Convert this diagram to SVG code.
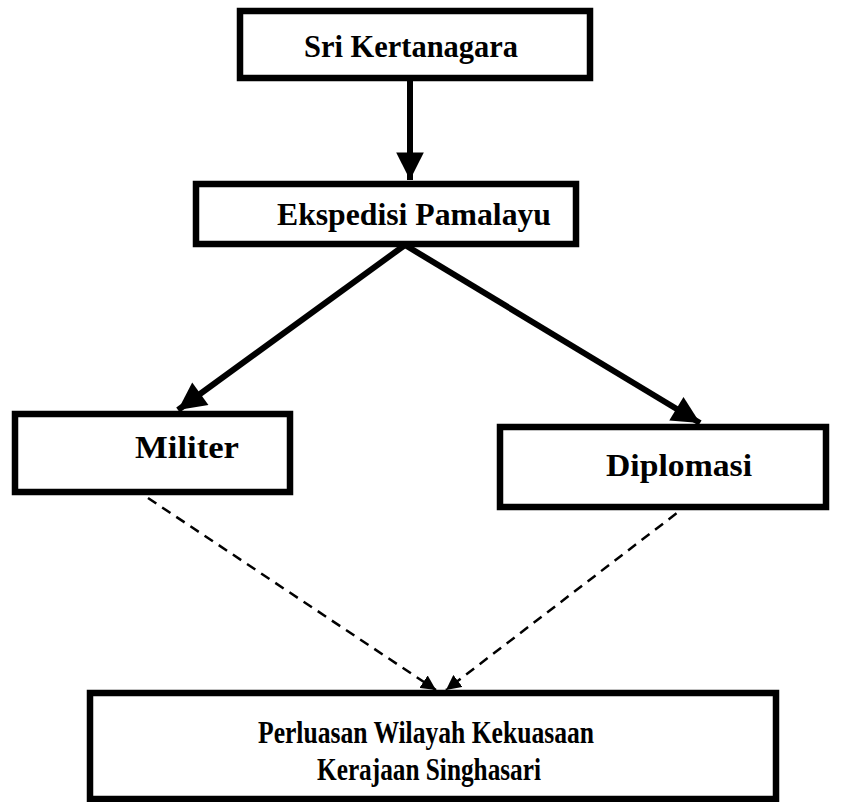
<svg xmlns="http://www.w3.org/2000/svg" width="841" height="802" viewBox="0 0 841 802">
<style>
.box{fill:#fff;stroke:#000;stroke-width:6.5}
.t{font-family:"Liberation Serif","Times New Roman",serif;font-weight:bold;font-size:32px;fill:#000;text-anchor:middle}
.solid{stroke:#000;stroke-width:6;fill:none}
.dash{stroke:#000;stroke-width:2.5;fill:none;stroke-dasharray:10 7}
</style>
<defs>
<marker id="ah" viewBox="0 0 10 10" refX="10" refY="5" markerWidth="5" markerHeight="4.6" markerUnits="strokeWidth" orient="auto">
<path d="M0,0 L10,5 L0,10 z" fill="#000"/>
</marker>
<marker id="ahd" viewBox="0 0 10 10" refX="10" refY="5" markerWidth="6" markerHeight="6" markerUnits="strokeWidth" orient="auto">
<path d="M0,0 L10,5 L0,10 z" fill="#000"/>
</marker>
</defs>
<rect width="841" height="802" fill="#fff"/>
<g id="connectors">
<line class="solid" x1="410" y1="80" x2="410" y2="180" marker-end="url(#ah)"/>
<line class="solid" x1="405" y1="245" x2="178" y2="410" marker-end="url(#ah)"/>
<line class="solid" x1="405" y1="245" x2="700" y2="423" marker-end="url(#ah)"/>
<line class="dash" x1="148" y1="498" x2="436" y2="690" marker-end="url(#ahd)"/>
<line class="dash" x1="690" y1="503" x2="446" y2="690" marker-end="url(#ahd)"/>
</g>
<g id="sri">
<rect class="box" x="240" y="11" width="350" height="67"/>
<text class="t" x="411" y="57" textLength="214" lengthAdjust="spacingAndGlyphs">Sri Kertanagara</text>
</g>
<g id="ekspedisi">
<rect class="box" x="196" y="184" width="380" height="60"/>
<text class="t" x="414" y="225" textLength="274" lengthAdjust="spacingAndGlyphs">Ekspedisi Pamalayu</text>
</g>
<g id="militer">
<rect class="box" x="15" y="414" width="275" height="78"/>
<text class="t" x="187" y="458" textLength="104" lengthAdjust="spacingAndGlyphs">Militer</text>
</g>
<g id="diplomasi">
<rect class="box" x="500" y="427" width="326" height="80"/>
<text class="t" x="679" y="476" textLength="146" lengthAdjust="spacingAndGlyphs">Diplomasi</text>
</g>
<g id="perluasan">
<rect class="box" x="90" y="693" width="686" height="106"/>
<text class="t" x="426" y="743" font-size="35" textLength="336" lengthAdjust="spacingAndGlyphs">Perluasan Wilayah Kekuasaan</text>
<text class="t" x="429" y="780" font-size="35" textLength="224" lengthAdjust="spacingAndGlyphs">Kerajaan Singhasari</text>
</g>
</svg>
